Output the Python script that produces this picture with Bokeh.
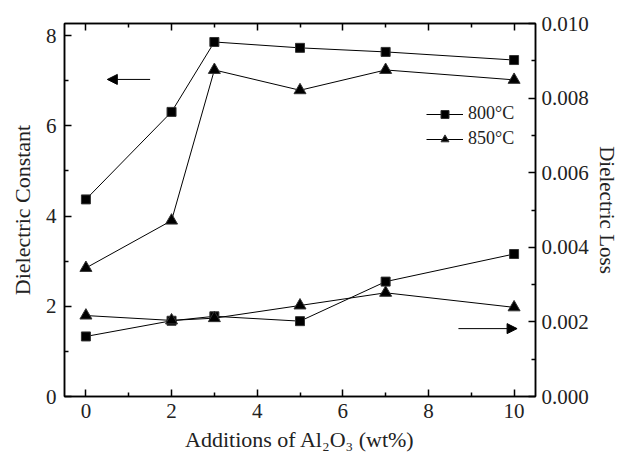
from bokeh.plotting import figure
from bokeh.models import (Range1d, LinearAxis, Legend, LegendItem, Arrow, NormalHead,
                          FixedTicker, PrintfTickFormatter)
from bokeh.embed import file_html
from bokeh.resources import INLINE

# ---------------- data ----------------
additions = [0, 2, 3, 5, 7, 10]
const_800 = [4.37, 6.31, 7.86, 7.73, 7.64, 7.46]
const_850 = [2.85, 3.90, 7.24, 6.79, 7.24, 7.02]
loss_800 = [0.00161, 0.00203, 0.00215, 0.00202, 0.00308, 0.00382]
loss_850 = [0.00217, 0.00204, 0.00210, 0.00244, 0.00278, 0.00239]

x_ticks = [0, 2, 4, 6, 8, 10]
left_ticks = [0, 2, 4, 6, 8]
right_ticks = [0.000, 0.002, 0.004, 0.006, 0.008, 0.010]

# arrows (start x, end x, y)
left_arrow = (1.5, 0.5, 7.03)
right_arrow = (8.7, 10.07, 0.00182)

FONT = "Liberation Serif"

p = figure(width=625, height=457, output_backend="svg", toolbar_location=None,
           x_range=Range1d(-0.5, 10.5), y_range=Range1d(0, 8.27),
           min_border_left=64, min_border_right=90, min_border_top=23,
           min_border_bottom=61)
p.extra_y_ranges = {"loss": Range1d(0, 0.010)}
p.xgrid.visible = False
p.ygrid.visible = False
p.outline_line_color = "black"
p.outline_line_width = 1.5
p.background_fill_color = "white"
p.border_fill_color = "white"


def style_axis(ax, ticks, label_size="22px"):
    ax.ticker = FixedTicker(ticks=ticks,
                            minor_ticks=[(ticks[i] + ticks[i + 1]) / 2 for i in range(len(ticks) - 1)])
    ax.major_tick_in = 7
    ax.major_tick_out = 0
    ax.minor_tick_in = 4
    ax.minor_tick_out = 0
    ax.axis_line_width = 1.5
    ax.major_tick_line_width = 1.5
    ax.minor_tick_line_width = 1.5
    ax.axis_line_color = "black"
    ax.major_tick_line_color = "black"
    ax.minor_tick_line_color = "black"
    ax.major_label_text_font = FONT
    ax.major_label_text_font_size = "21px"
    ax.major_label_text_color = "#222222"
    ax.axis_label_text_font = FONT
    ax.axis_label_text_font_size = label_size
    ax.axis_label_text_font_style = "normal"
    ax.axis_label_text_color = "#222222"


# bottom axis
xa = p.xaxis[0]
style_axis(xa, x_ticks, "22px")
xa.axis_label = "Additions of Al\u2082O\u2083 (wt%)"
xa.major_label_standoff = 7
xa.axis_label_standoff = 6

# left axis
ya = p.yaxis[0]
style_axis(ya, left_ticks, "22px")
ya.axis_label = "Dielectric Constant"
ya.major_label_standoff = 8
ya.axis_label_standoff = 8

# right axis
ra = LinearAxis(y_range_name="loss", axis_label="Dielectric Loss")
style_axis(ra, right_ticks, "21px")
ra.formatter = PrintfTickFormatter(format="%.3f")
ra.major_label_standoff = 6
ra.axis_label_standoff = 3
p.add_layout(ra, "right")

# top axis (ticks only)
ta = LinearAxis()
style_axis(ta, x_ticks)
ta.major_label_overrides = {t: "" for t in x_ticks}
ta.major_label_standoff = 0
p.add_layout(ta, "above")

# ---------------- series ----------------
l1 = p.line(additions, const_800, line_color="black", line_width=1)
s1 = p.scatter(additions, const_800, marker="square", size=9, fill_color="black", line_color="#333333")
l2 = p.line(additions, const_850, line_color="black", line_width=1)
s2 = p.scatter(additions, const_850, marker="triangle", size=12, fill_color="black", line_color="#333333")

p.line(additions, loss_800, line_color="black", line_width=1, y_range_name="loss")
p.scatter(additions, loss_800, marker="square", size=9, fill_color="black", line_color="#333333",
          y_range_name="loss")
p.line(additions, loss_850, line_color="black", line_width=1, y_range_name="loss")
p.scatter(additions, loss_850, marker="triangle", size=12, fill_color="black", line_color="#333333",
          y_range_name="loss")

# arrows
p.add_layout(Arrow(end=NormalHead(size=10, fill_color="black", line_color="black"),
                   x_start=left_arrow[0], x_end=left_arrow[1],
                   y_start=left_arrow[2], y_end=left_arrow[2],
                   line_color="black", line_width=1))
p.add_layout(Arrow(end=NormalHead(size=10, fill_color="black", line_color="black"),
                   x_start=right_arrow[0], x_end=right_arrow[1],
                   y_start=right_arrow[2], y_end=right_arrow[2],
                   line_color="black", line_width=1, y_range_name="loss"))

# legend
legend = Legend(items=[LegendItem(label="800\u00b0C", renderers=[l1, s1]),
                       LegendItem(label="850\u00b0C", renderers=[l2, s2])],
                location=(362, 247), orientation="vertical",
                border_line_color=None, background_fill_alpha=0,
                padding=0, margin=0, spacing=4,
                glyph_width=37, glyph_height=20, label_height=20,
                label_standoff=5,
                label_text_font=FONT, label_text_font_size="18px",
                label_text_color="#222222")
p.add_layout(legend, "center")

open("out.html", "w").write(file_html(p, INLINE))
